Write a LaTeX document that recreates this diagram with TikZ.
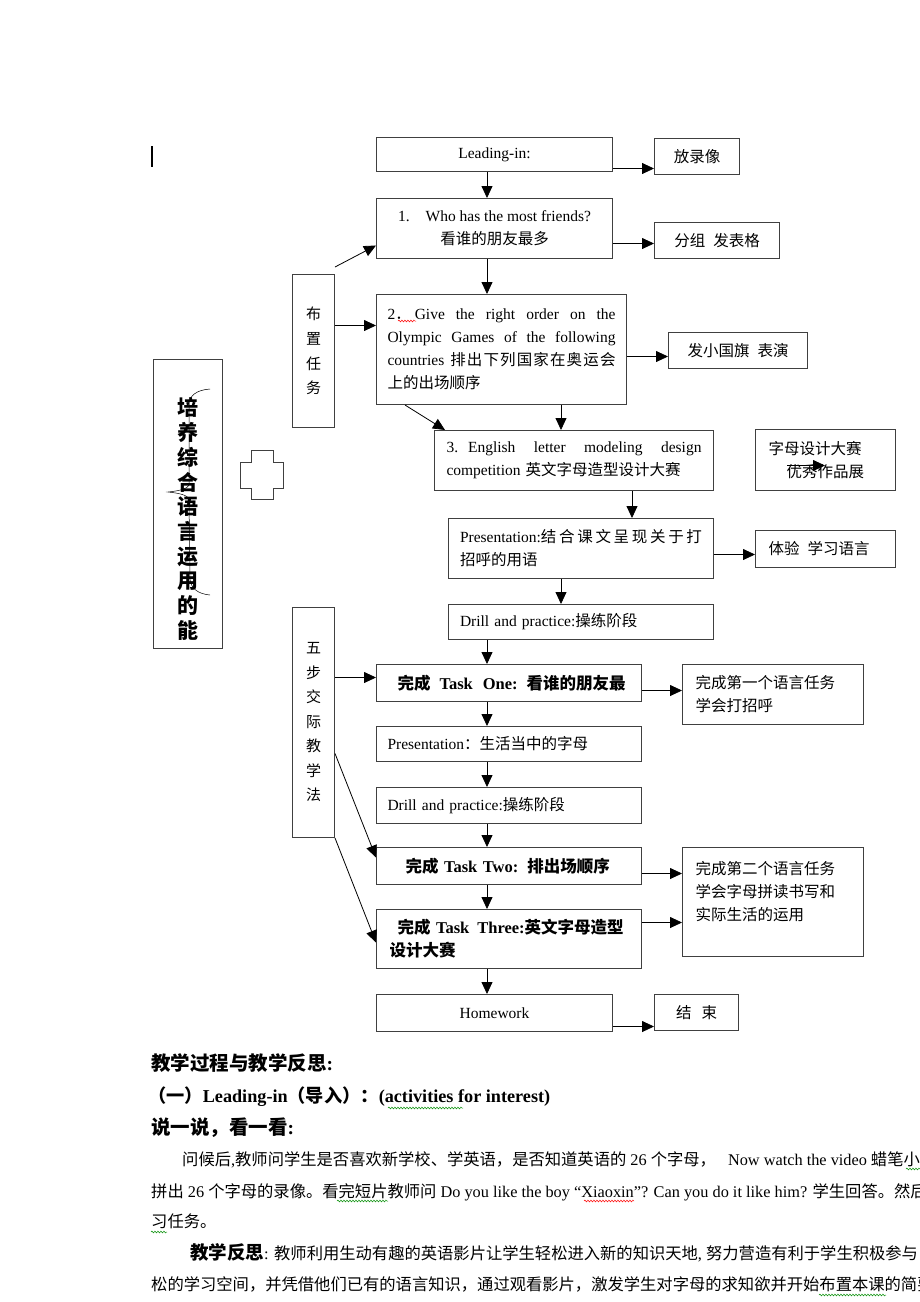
\documentclass[tikz,border=0pt]{standalone}
\usepackage{fontspec}
\setmainfont{Liberation Serif}
\newfontfamily\cjkfont{Noto Sans CJK SC}
% switch to the CJK family automatically for Chinese characters
\XeTeXinterchartokenstate=1
\chardef\cjkclass=7
\newcount\cjkcode
\def\setcjkrange#1#2{\cjkcode=#1\relax
  \loop\XeTeXcharclass\cjkcode=\cjkclass
  \ifnum\cjkcode<#2\advance\cjkcode by 1\repeat}
\setcjkrange{"3000}{"303F}
\setcjkrange{"4E00}{"9FFF}
\setcjkrange{"FF00}{"FFEF}
\XeTeXinterchartoks 0 \cjkclass = {\cjkfont}
\XeTeXinterchartoks 4095 \cjkclass = {\cjkfont}
\XeTeXinterchartoks \cjkclass 0 = {\rmfamily}
\XeTeXinterchartoks \cjkclass 4095 = {\rmfamily}
\usetikzlibrary{arrows.meta, positioning, decorations.pathmorphing}
\tikzset{>=latex}
\newcommand{\boxfont}{\fontsize{15.5}{23}\selectfont}
\newcommand{\taskfont}{\fontsize{16.5}{23}\selectfont\bfseries}
\newcommand{\parafont}{\fontsize{16.3}{20}\selectfont}
\newcommand{\headfont}{\fontsize{19.5}{20}\selectfont\bfseries}
% justified line of given width
\newcommand{\fullline}[2]{\makebox[#1][s]{\spaceskip=0pt\relax #2}}

\begin{document}
\begin{tikzpicture}[x=1pt, y=-1pt,
  box/.style={draw=black!75, line width=1pt, anchor=north west, inner sep=0pt, font=\boxfont},
  flow/.style={-{Triangle[length=12pt,width=11pt]}, line width=0.8pt},
  para/.style={anchor=base west, inner sep=0pt, font=\parafont},
  wavy/.style={line width=0.5pt, decorate, decoration={snake, amplitude=0.9pt, segment length=3pt}}]
\useasboundingbox (0,0) rectangle (920,1302);
\clip (0,0) rectangle (920,1302);

% text cursor
\draw[line width=2pt] (152,146) -- (152,167);

% main column
\node[box, minimum width=236pt, minimum height=34pt] (lead) at (376,137) {Leading-in:};
\node[box, minimum width=236pt, minimum height=60pt, align=center] (q1) at (376,198)
  {1.\hspace{16pt}Who has the most friends?\\看谁的朋友最多};
\node[box, minimum width=250pt, minimum height=110pt, text width=228pt, inner xsep=11pt, align=left] (q2) at (376,294)
  {\fullline{228pt}{2．\hspace{4pt}Give the right order on the}\\
   \fullline{228pt}{Olympic Games of the following}\\
   \fullline{228pt}{countries\hspace{6pt}排\hfil 出\hfil 下\hfil 列\hfil 国\hfil 家\hfil 在\hfil 奥\hfil 运\hfil 会}\\
   上的出场顺序};
\node[box, minimum width=279pt, minimum height=60pt, text width=255pt, inner xsep=12pt, align=left] (q3) at (434,430)
  {\fullline{255pt}{3.\hspace{10pt}English letter modeling design}\\competition 英文字母造型设计大赛};
\node[box, minimum width=265pt, minimum height=60pt, text width=242pt, inner xsep=11.5pt, align=left] (pres) at (448,518)
  {\fullline{242pt}{Presentation:结\hfil 合\hfil 课\hfil 文\hfil 呈\hfil 现\hfil 关\hfil 于\hfil 打}\\招呼的用语};
\node[box, minimum width=265pt, minimum height=35pt, text width=242pt, inner xsep=11.5pt, align=left] (drill) at (448,604)
  {Drill and practice:操练阶段};
\node[box, minimum width=265pt, minimum height=37pt, text width=243pt, inner xsep=11pt, align=left, font=\taskfont] (t1) at (376,664)
  {\hspace{10pt}完成\hspace{9pt}Task\hspace{10pt}One:\hspace{9pt}看谁的朋友最};
\node[box, minimum width=265pt, minimum height=35pt, text width=243pt, inner xsep=11pt, align=left] (pres2) at (376,726)
  {Presentation：生活当中的字母};
\node[box, minimum width=265pt, minimum height=36pt, text width=243pt, inner xsep=11pt, align=left] (drill2) at (376,787)
  {Drill and practice:操练阶段};
\node[box, minimum width=265pt, minimum height=37pt, text width=243pt, inner xsep=11pt, align=left, font=\taskfont] (t2) at (376,847)
  {\hspace{18pt}完成 Task Two:\hspace{9pt}排出场顺序};
\node[box, minimum width=265pt, minimum height=59pt, text width=239pt, inner xsep=13pt, align=left, font=\taskfont] (t3) at (376,909)
  {\hspace{8pt}完成 Task\hspace{8pt}Three:英文字母造型\\设计大赛};
\node[box, minimum width=236pt, minimum height=37pt] (hw) at (376,994) {Homework};

% side boxes
\node[box, minimum width=85pt, minimum height=36pt] (video) at (654,138) {放录像};
\node[box, minimum width=125pt, minimum height=36pt] (group) at (654,222) {分组\hspace{8pt}发表格};
\node[box, minimum width=139pt, minimum height=36pt] (flag) at (668,332) {发小国旗\hspace{8pt}表演};
\node[box, minimum width=140pt, minimum height=61pt, text width=114pt, inner xsep=13pt, align=left] (show) at (755,429)
  {字母设计大赛\\\hspace{18pt}优秀作品展};
\node[box, minimum width=140pt, minimum height=37pt, text width=114pt, inner xsep=13pt, align=left] (practise) at (755,530)
  {体验\hspace{8pt}学习语言};
\node[box, minimum width=181pt, minimum height=60pt, text width=155pt, inner xsep=13pt, align=left] (goal1) at (682,664)
  {完成第一个语言任务\\学会打招呼};
\node[box, minimum width=181pt, minimum height=109pt, text width=155pt, inner xsep=13pt, align=left] (goal2) at (682,847)
  {完成第二个语言任务\\学会字母拼读书写和\\实际生活的运用\\\mbox{}};
\node[box, minimum width=84pt, minimum height=36pt] (finish) at (654,994) {结\hspace{10pt}束};

% left boxes
\node[box, minimum width=42pt, minimum height=153pt, align=center, font=\fontsize{15}{24.7}\selectfont] (assign) at (292,274)
  {布\\置\\任\\务};
\node[box, minimum width=42pt, minimum height=230pt, align=center, font=\fontsize{15}{24.5}\selectfont] (fivestep) at (292,607)
  {五\\步\\交\\际\\教\\学\\法};
\node[box, minimum width=69pt, minimum height=289pt] (skill) at (153,359) {};
\node[inner sep=0pt, align=center, font=\fontsize{21}{24.7}\selectfont\bfseries] (skilltext) at (188,519)
  {培\\养\\综\\合\\语\\言\\运\\用\\的\\能};
\draw[line width=0.5pt] (210,389) .. controls (196,390) and (189,396) .. (189,405) -- (189,484)
  .. controls (189,489) and (178,491) .. (168,492) .. controls (178,493) and (189,495) .. (189,500)
  -- (190,578) .. controls (190,588) and (198,594) .. (210,595);

% cross
\draw[draw=black!75, line width=1pt] (251,450) -- (273,450) -- (273,462) -- (283,462) -- (283,488) -- (273,488)
  -- (273,499) -- (251,499) -- (251,488) -- (240,488) -- (240,462) -- (251,462) -- cycle;

% connectors
\coordinate (colA) at (487,0);
\coordinate (colB) at (561,0);
\coordinate (colC) at (632,0);
\draw[flow] (lead.south -| colA) -- (q1.north -| colA);
\draw[flow] (q1.south -| colA) -- (q2.north -| colA);
\draw[flow] (q2.south -| colB) -- (q3.north -| colB);
\draw[flow] (q3.south -| colC) -- (pres.north -| colC);
\draw[flow] (pres.south -| colB) -- (drill.north -| colB);
\draw[flow] (drill.south -| colA) -- (t1.north -| colA);
\foreach \a/\b in {t1/pres2, pres2/drill2, drill2/t2, t2/t3, t3/hw}
  \draw[flow] (\a.south -| colA) -- (\b.north -| colA);
\foreach \a/\b/\d in {lead/video/-14, q1/group/-15, q2/flag/-7, pres/practise/-6,
                      t1/goal1/-7.5, t2/goal2/-7.5, t3/goal2/16.5, hw/finish/-13.5}{
  \coordinate (s) at ([yshift=\d pt]\a.east);
  \draw[flow] (s) -- (s -| \b.west);
}
\draw[flow] ([yshift=7pt]assign.north east) -- ([yshift=-17pt]q1.west);
\coordinate (s) at ([yshift=25.5pt]assign.east);
\draw[flow] (s) -- (s -| q2.west);
\draw[flow] ([xshift=29pt]q2.south west) -- ([xshift=11pt]q3.north west);
\coordinate (s) at ([yshift=45pt]fivestep.east);
\draw[flow] (s) -- (s -| t1.west);
\draw[flow] ([yshift=-31pt]fivestep.east) -- ([yshift=8.5pt]t2.west);
\draw[flow] (fivestep.south east) -- ([yshift=-3.5pt]t3.west);
\draw[flow] ([xshift=32pt,yshift=-5.5pt]show.west) -- ([xshift=70pt,yshift=-5.5pt]show.west);

% text below the chart
\node[para, font=\headfont] (h1) at (151,1070) {教学过程与教学反思:};
\node[para, font=\fontsize{18.2}{20}\selectfont\bfseries] (h2) at (148,1102) {（一）Leading-in（导入）：(activities for interest)};
\node[para, font=\headfont] (h3) at (151,1134) {说一说，看一看:};
\node[para] (p1) at (182,1165) {问候后,教师问学生是否喜欢新学校、学英语，是否知道英语的 26 个字母，\hspace{12pt}Now watch the video\hspace{4pt}蜡笔小新};
\node[para] (p2) at (151,1197) {拼出 26 个字母的录像。看完短片教师问 Do you like the boy “Xiaoxin”? Can you do it like him? 学生回答。然后};
\node[para] (p3) at (151,1227) {习任务。};
\node[para] (p4) at (190,1259) {{\fontsize{18.5}{20}\selectfont\bfseries 教学反思}: 教师利用生动有趣的英语影片让学生轻松进入新的知识天地, 努力营造有利于学生积极参与};
\node[para] (p5) at (151,1290) {松的学习空间，并凭借他们已有的语言知识，通过观看影片，激发学生对字母的求知欲并开始布置本课的简要};

% spelling marks
\draw[wavy, red] (398,321) -- (416,321);
\draw[wavy, green!55!black] (388,1108) -- (463,1108);
\draw[wavy, green!55!black] (337,1201) -- (388,1201);
\draw[wavy, red] (584,1201) -- (634,1201);
\draw[wavy, green!55!black] (151,1232) -- (167,1232);
\draw[wavy, green!55!black] (819,1295) -- (886,1295);
\draw[wavy, green!55!black] (906,1169) -- (920,1169);
\end{tikzpicture}
\end{document}
